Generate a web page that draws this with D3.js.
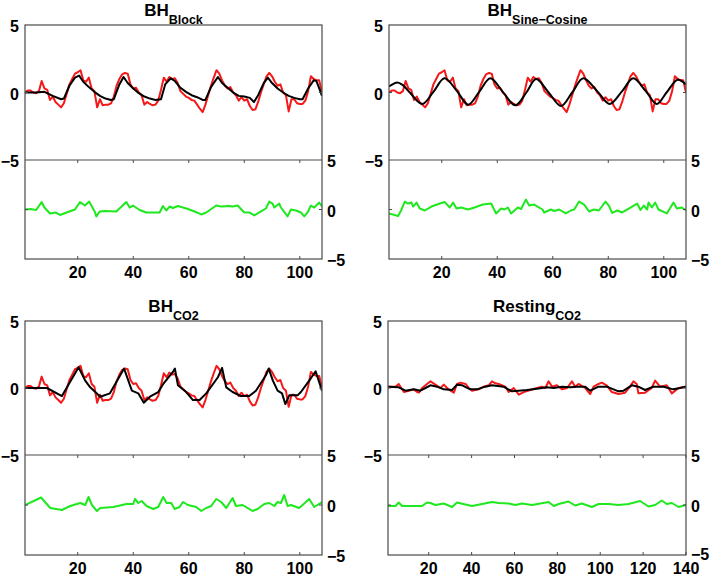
<!DOCTYPE html>
<html><head><meta charset="utf-8">
<script src="https://cdn.jsdelivr.net/npm/d3@7"></script>
<style>
body{margin:0;background:#fff}
svg{display:block}
text{font-family:"Liberation Sans",Arial,Helvetica,sans-serif;font-weight:bold;fill:#000}
</style>
</head><body>
<svg id="chart" width="711" height="577"></svg>
<script>
// ---------------- DATA ----------------
const xTicksBH = [20, 40, 60, 80, 100];
const xTicksRest = [20, 40, 60, 80, 100, 120, 140];
const yTicks = [-5, 0, 5];

// measured BH signal (red), samples 1..108 (shared by the three BH panels)
const bhSignal = [0.0,0.15,0.15,0.0,-0.05,0.1,0.85,0.3,0.2,-0.55,
 -0.3,-0.7,-0.9,-1.1,-0.8,-0.1,0.6,1.0,1.4,1.5,
 1.65,0.9,0.8,1.1,0.3,0.1,-1.1,-0.5,-0.95,-0.9,
 -0.9,-0.8,-0.3,0.5,1.0,1.35,1.45,1.4,0.6,0.3,
 0.35,0.0,-0.2,-0.9,-0.7,-0.85,-0.95,-0.9,-0.6,0.2,
 1.1,0.8,1.15,1.0,1.05,0.7,0.1,-0.1,-0.3,-0.4,
 -0.55,-0.6,-0.9,-1.2,-1.45,-0.9,-0.2,0.5,1.1,1.65,
 1.4,0.9,0.5,0.3,0.4,0.0,-0.2,-0.6,-0.35,-0.6,
 -0.5,-1.0,-1.3,-1.25,-0.7,0.0,0.6,1.2,1.45,1.2,
 0.8,0.5,0.6,0.0,-0.2,-1.4,-0.5,-0.5,-0.8,-0.85,
 -0.85,-0.6,0.1,1.2,1.0,0.9,0.9,0.0];

// Block model fit (black, panel 1)
const blockX = [1,5,8,11,14,15,17,19,20.5,22,24,26,28,30,32,33,35,36.5,38,40,42,44,46,48,50,51.5,53.5,55,57,59,61,63,65,66,68,70.5,72,74,76,78,80,82,83.5,85,87,88.5,90,92,94,96,98,100,101,103,105,106,107,108];
const blockY = [0.0,0.0,0.05,-0.25,-0.5,-0.45,0.5,1.1,1.25,0.8,0.4,0.05,-0.25,-0.45,-0.55,-0.5,0.6,1.15,0.7,0.3,-0.05,-0.3,-0.45,-0.55,-0.5,0.6,1.05,0.85,0.35,0.05,-0.2,-0.35,-0.55,-0.55,0.4,1.15,0.7,0.35,0.0,-0.25,-0.3,-0.4,-0.7,-0.2,0.7,1.1,0.7,0.3,0.0,-0.25,-0.4,-0.5,-0.5,0.3,0.9,0.85,0.3,-0.25];
// Block residual (green, panel 1)
const blockResX = [1,3,5,7,8,10,12,13.6,16,19,20.8,22.6,24.1,26.1,26.7,27.9,30,33.9,37.5,38.7,39.9,42.3,44.7,47,49.5,50.7,51.9,53.1,54.3,56.1,57.9,59.7,62.1,64.5,66.3,69.9,71.6,74.6,75.8,77.6,80,81.8,83.6,86,87.8,89,90.2,90.8,92.6,93.2,95.6,96.8,98.6,100.4,101.6,102.8,104,105.2,107,108];
const blockResY = [0,0.05,-0.05,0.75,0.2,-0.4,-0.3,-0.55,-0.3,0,0.75,0.4,0.8,-0.2,-0.7,-0.2,-0.15,-0.2,0.75,0.2,0.4,-0.05,-0.3,-0.3,-0.3,0.35,-0.1,0.3,0.15,0.35,0.2,0.05,-0.2,-0.5,-0.3,0.4,0.3,0.35,0.3,0.4,-0.3,-0.3,-0.6,-0.2,0.1,0.8,0.6,0.2,0.6,0.2,-0.7,0,-0.1,-0.3,-0.7,-0.3,0.4,0.2,0.7,0.3];

// Sine-Cosine model fit (black, panel 2)
const scX = [1,4,6,8.5,13,17,21,25.5,29.5,33.5,37.5,42,46.5,50.5,54,58.5,63,67,71,76,80.5,85,89,93.5,97.5,101,105,108];
const scY = [0.45,0.75,0.55,0.0,-0.85,0.05,1.05,0.1,-0.9,0.05,1.05,0.05,-0.95,0.0,1.0,0.0,-1.0,0.0,1.05,0.1,-0.85,0.1,1.05,0.1,-0.85,0.0,0.95,0.6];
const scResX = [1,4.3,5.5,6.7,7.9,9.1,9.7,10.9,12.1,13.9,16.3,19.3,21.1,22.9,24.1,25.3,27,29.4,31.8,34.8,37.8,39.6,41.4,42.6,43.8,45,47.4,48.6,50.3,51.5,53.3,56.3,56.9,59.3,60.5,62.3,64.7,66.5,67.7,69.5,71.3,73.1,74.8,76.6,79,80.2,81.4,83.2,85,88,90.4,91.6,92.8,94,94.5,95.7,96.9,98.1,101.1,103.5,104.7,106.5,108];
const scResY = [-0.4,-0.65,0.0,0.8,0.6,0.7,0.3,0.7,0.1,-0.1,0.3,0.6,0.75,0.2,0.7,0.1,0.2,0.0,0.2,0.5,0.6,-0.4,0.1,0.0,0.2,-0.4,0.2,0.05,1.0,0.4,0.5,0.0,-0.3,0.0,-0.15,0.0,-0.4,-0.1,0.0,0.8,0.5,-0.2,0.0,-0.1,0.8,0.4,-0.35,-0.1,-0.3,0.2,0.6,-0.05,0.4,0.0,0.7,0.2,0.7,0.0,-0.4,0.7,0.1,0.2,-0.1];

// CO2 model fit (black, panel 3)
const co2X = [1,8.9,14.3,20.3,22.7,24.5,28.1,31.6,36.7,39.5,41.8,43.8,46,49,50.8,54.3,55,56.1,59.1,61.5,63.9,66.3,70.5,72,73.5,75.8,78.8,81.8,84.2,87.8,88.8,90.3,92,93.6,94.8,96.2,99.2,100.4,103.4,105.7,108];
const co2Y = [0,0.0,-0.6,1.55,0.55,0.05,-0.65,-0.4,1.45,-0.2,-0.4,-1.1,-0.65,-0.3,0.3,1.2,1.45,0.2,-0.3,-0.9,-0.9,-0.4,0.8,1.5,0.05,-0.3,-0.6,-0.6,-0.2,0.95,1.45,0.55,-0.2,-0.4,-1.2,-0.55,-0.55,-0.3,0.55,1.25,-0.2];
const co2ResX = [1,6.8,10.1,14.3,17.3,19.7,20.9,22.7,23.9,25.1,26.9,28.1,32.8,37.6,40,40.6,41.8,43,44.8,47.2,49,50.8,52,53.7,54.9,56.7,57.9,59.7,62.7,64.5,66.3,68.1,69.9,71.7,73.5,75.8,77,79.4,83,84.8,87.2,89,90.8,92,93.2,94.4,95.6,96.8,99.8,103.4,105.2,108];
const co2ResY = [0,0.75,-0.3,-0.5,-0.1,0.1,0.2,0.0,0.8,0.0,-0.6,-0.3,-0.2,0.1,0.1,0.6,0.2,0.4,-0.1,-0.4,-0.2,0.8,0.2,0.2,-0.4,-0.2,0.3,0.0,-0.2,-0.6,-0.3,-0.1,0.6,0.3,-0.3,0.7,-0.1,0.0,-0.6,-0.4,0.1,0.2,-0.1,0.3,0.2,1.0,-0.1,0.0,-0.3,0.6,-0.2,0.3];

// Resting CO2 (panel 4), samples 1..140
const restX = [1,4.5,6,8.4,10.7,13,14.6,15.4,16.9,19.2,20.8,23.1,25.5,27,28.6,30.2,31.7,33.2,34.8,37.2,38.7,40.2,43.3,45.6,48,49.5,51.1,52.6,55.7,57.3,59.6,62,64.3,67.4,70.5,72.8,74.4,75.9,77.5,79.8,82.1,84.5,86.8,88.3,89.9,93,95.3,96.9,99.2,100.7,103,105.4,108.5,111.6,113.9,115.5,117,117.8,120.9,124,125.6,127.9,131,133.4,136.5,139.6,140];
const restY = [0.1,0.1,0.3,-0.3,-0.2,-0.1,-0.3,-0.35,0.0,0.3,0.5,0.25,0.0,0.25,0.0,-0.2,-0.35,0.3,0.4,0.3,0.0,-0.2,-0.1,0.1,0.2,0.5,0.35,0.3,0.1,-0.3,0.0,-0.5,-0.3,-0.15,0.0,0.1,0.0,0.5,0.1,0.2,-0.1,0.0,0.5,0.1,0.3,0.0,-0.45,0.1,0.3,0.4,0.2,-0.3,-0.45,-0.35,0.1,0.5,0.3,-0.4,-0.35,0.0,0.55,0.1,0.2,-0.4,0.0,0.1,0.1];
const restFitX = [1,6,9.2,13,16.1,18.5,20.8,23.9,27,30.9,33.2,35.6,39.4,42.5,46.4,49.5,54.9,58.8,61.9,65.8,70.5,75.1,78.3,82.1,86,89.1,93,95.3,99.2,103.1,108.5,110.9,114.7,117.8,120.9,124.8,129.5,134.1,137.2,140];
const restFitY = [0.1,0.05,-0.2,-0.1,-0.2,0.0,0.2,0.1,-0.1,-0.15,0.25,0.2,-0.1,-0.1,0.1,0.2,0.1,-0.25,-0.2,-0.15,-0.05,0.05,0.0,0.1,0.05,0.1,0.1,-0.2,0.1,0.1,-0.25,-0.2,0.2,0.1,-0.15,0.1,0.1,-0.1,0.0,0.1];
const restResX = [1,4.5,6,7.6,16.9,19.2,20.8,23.1,27,30.9,33.2,37.1,40.2,44.9,49.5,52.6,57.3,60.4,63.5,68.2,75.9,78.3,80.6,85.2,88.3,91.4,96.1,99.2,103.9,108.5,113.2,118.6,122.5,125.6,128.7,131,133.4,136.5,140];
const restResY = [-0.1,-0.1,0.25,-0.1,-0.1,0.25,0.2,0.0,0.15,-0.2,0.25,0.05,-0.1,0.1,0.3,0.2,0.15,0.0,0.15,0.0,0.3,-0.1,0.1,0.35,-0.05,0.15,-0.2,0.1,0.1,0.0,0.1,0.4,-0.15,0.0,0.45,0.1,0.2,-0.2,0.0];

// ---------------- LAYOUT ----------------
const bhIdx = d3.range(1, bhSignal.length + 1);
const panels = [
  {title:"BH", sub:"Block", xMax:108, ticks:xTicksBH, box:{l:25,r:322,t:25,m:160,b:259},
   red:[bhIdx,bhSignal], black:[blockX,blockY], green:[blockResX,blockResY], smooth:false},
  {title:"BH", sub:"Sine\u2212Cosine", xMax:108, ticks:xTicksBH, box:{l:389,r:686,t:25,m:160,b:259},
   red:[bhIdx,bhSignal], black:[scX,scY], green:[scResX,scResY], smooth:true},
  {title:"BH", sub:"CO2", xMax:108, ticks:xTicksBH, box:{l:25,r:322,t:321,m:455,b:555},
   red:[bhIdx,bhSignal], black:[co2X,co2Y], green:[co2ResX,co2ResY], smooth:false},
  {title:"Resting", sub:"CO2", xMax:140, ticks:xTicksRest, box:{l:388,r:686,t:321,m:455,b:555},
   red:[restX,restY], black:[restFitX,restFitY], green:[restResX,restResY], smooth:false}
];

const svg = d3.select("#chart");
const axisColor = "#4a4a4a";
const fmt = v => v < 0 ? "\u2212" + Math.abs(v) : String(v);

panels.forEach(p => {
  const b = p.box;
  const g = svg.append("g");
  const x = d3.scaleLinear().domain([1, p.xMax]).range([b.l, b.r]);
  const yU = d3.scaleLinear().domain([-5, 5]).range([b.m, b.t]);
  const yL = d3.scaleLinear().domain([-5, 5]).range([b.b, b.m]);

  const clipU = "cu" + b.l + "_" + b.t, clipL = "cl" + b.l + "_" + b.t;
  const defs = g.append("defs");
  defs.append("clipPath").attr("id", clipU).append("rect").attr("x", b.l).attr("y", b.t).attr("width", b.r - b.l).attr("height", b.m - b.t);
  defs.append("clipPath").attr("id", clipL).append("rect").attr("x", b.l).attr("y", b.m).attr("width", b.r - b.l).attr("height", b.b - b.m);

  const mk = (xs, ys, ys2, curve) => d3.line().x((d,i)=>x(xs[i])).y((d,i)=>ys2(ys[i])).curve(curve || d3.curveLinear)(xs);

  g.append("path").attr("clip-path", `url(#${clipU})`).attr("d", mk(p.red[0], p.red[1], yU))
    .attr("fill","none").attr("stroke","#f41818").attr("stroke-width",2).attr("stroke-linejoin","round");
  g.append("path").attr("clip-path", `url(#${clipU})`).attr("d", mk(p.black[0], p.black[1], yU, p.smooth ? d3.curveCatmullRom : d3.curveLinear))
    .attr("fill","none").attr("stroke","#000").attr("stroke-width",2).attr("stroke-linejoin","round");
  g.append("path").attr("clip-path", `url(#${clipL})`).attr("d", mk(p.green[0], p.green[1], yL))
    .attr("fill","none").attr("stroke","#1ee81e").attr("stroke-width",2).attr("stroke-linejoin","round");

  g.append("rect").attr("x", b.l).attr("y", b.t).attr("width", b.r - b.l).attr("height", b.b - b.t)
    .attr("fill","none").attr("stroke", axisColor).attr("stroke-width",1.2);
  g.append("line").attr("x1", b.l).attr("x2", b.r).attr("y1", b.m).attr("y2", b.m)
    .attr("stroke", axisColor).attr("stroke-width",1.2);

  p.ticks.forEach(t => {
    g.append("line").attr("x1", x(t)).attr("x2", x(t)).attr("y1", b.m).attr("y2", b.m + 3).attr("stroke", axisColor);
    g.append("line").attr("x1", x(t)).attr("x2", x(t)).attr("y1", b.b).attr("y2", b.b - 3).attr("stroke", axisColor);
    g.append("text").attr("x", x(t)).attr("y", b.b + 19).attr("text-anchor","middle").attr("font-size",16).text(t);
  });
  [yU(0), yL(0)].forEach(yy => {
    g.append("line").attr("x1", b.l).attr("x2", b.l + 3).attr("y1", yy).attr("y2", yy).attr("stroke", axisColor);
    g.append("line").attr("x1", b.r).attr("x2", b.r - 3).attr("y1", yy).attr("y2", yy).attr("stroke", axisColor);
  });
  yTicks.forEach(v => {
    g.append("text").attr("x", b.l - 6).attr("y", yU(v) + 7).attr("text-anchor","end").attr("font-size",16).text(fmt(v));
    const dyR = (v === -5 && p.xMax === 140) ? 5 : 7;
    g.append("text").attr("x", b.r + 5).attr("y", yL(v) + dyR).attr("text-anchor","start").attr("font-size",16).text(fmt(v));
  });

  const cx = (b.l + b.r) / 2;
  const tt = g.append("text").attr("x", cx).attr("y", b.t - 9).attr("text-anchor","middle");
  tt.append("tspan").attr("font-size",17).text(p.title);
  tt.append("tspan").attr("font-size",12.5).attr("dy",8).text(p.sub);
});
</script>
</body></html>
